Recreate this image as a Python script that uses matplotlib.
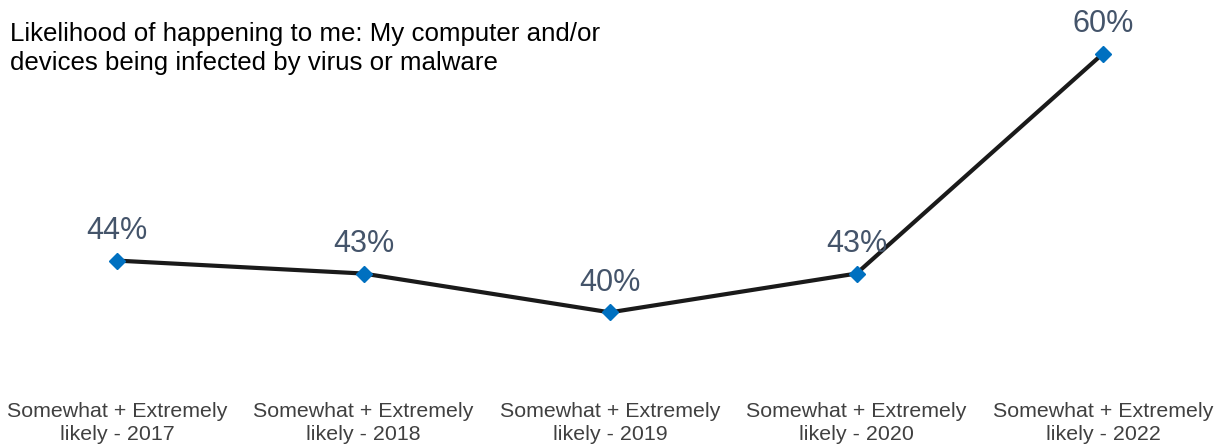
import matplotlib
matplotlib.use("Agg")
import matplotlib.pyplot as plt

# Share answering "somewhat" or "extremely" likely, per survey wave
categories = [
    "Somewhat + Extremely\nlikely - 2017",
    "Somewhat + Extremely\nlikely - 2018",
    "Somewhat + Extremely\nlikely - 2019",
    "Somewhat + Extremely\nlikely - 2020",
    "Somewhat + Extremely\nlikely - 2022",
]
values = [44, 43, 40, 43, 60]
value_labels = ["44%", "43%", "40%", "43%", "60%"]

LINE, MARKER, LABEL, INK = "#1a1a1a", "#0070C0", "#44546A", "#000000"

plt.rcParams["font.family"] = ["Liberation Sans", "DejaVu Sans"]

W, H = 1223, 446
fig = plt.figure(figsize=(W / 100, H / 100), dpi=100)

# axes placed in pixel terms: categories 246.5 px apart, first at x=117
step = 246.5
left_px = 117 - step / 2
bottom_px, top_px = 390, 0
ax = fig.add_axes([left_px / W, (H - bottom_px) / H,
                   step * 5 / W, (bottom_px - top_px) / H])

x = list(range(len(values)))
ax.plot(x, values, color=LINE, lw=3, zorder=2)
ax.plot(x, values, ls="none", marker="D", ms=8.5, color=MARKER, zorder=3)

for xi, v, lab in zip(x, values, value_labels):
    ax.annotate(lab, (xi, v), xytext=(0, 10.5), textcoords="offset points",
                ha="center", va="bottom", fontsize=22, color=LABEL)

ax.set_xlim(-0.5, 4.5)
ax.set_ylim(34.0, 64.14)
ax.set_xticks(x)
ax.set_xticklabels(categories, fontsize=15.4, color="#404040", linespacing=1.25)
ax.tick_params(axis="x", length=0, pad=8.5)
ax.set_yticks([])
for s in ax.spines.values():
    s.set_visible(False)
ax.patch.set_alpha(0)

fig.text(10 / W, 1 - 22 / H,
         "Likelihood of happening to me: My computer and/or\n"
         "devices being infected by virus or malware",
         ha="left", va="top", fontsize=18.6, color=INK, linespacing=1.25)

fig.savefig("out.png", dpi=100)
